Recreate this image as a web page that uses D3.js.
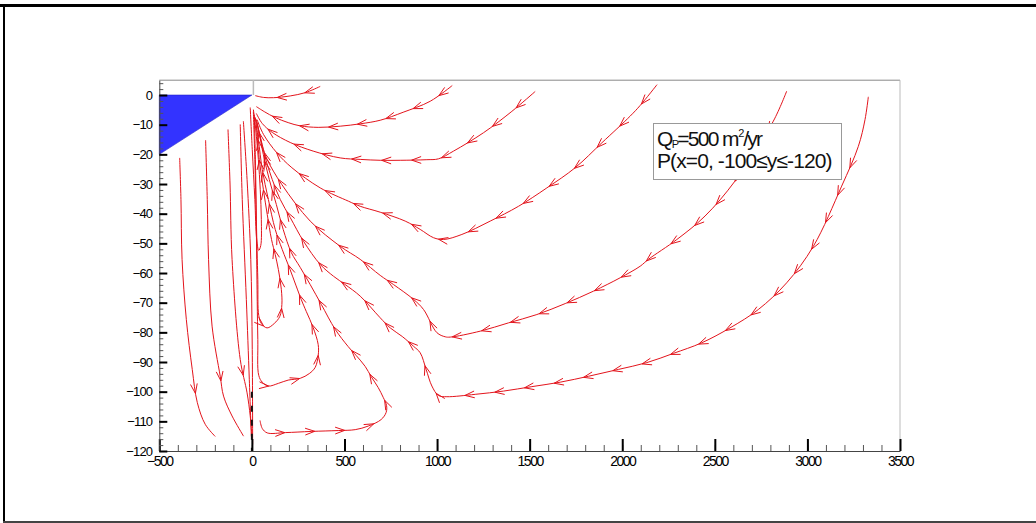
<!DOCTYPE html>
<html><head><meta charset="utf-8">
<script src="https://cdn.jsdelivr.net/npm/d3@7"></script>
<style>body{margin:0;background:#fff;} svg{display:block;font-family:"Liberation Sans",Arial,sans-serif;}</style>
</head><body><svg id="c" width="1036" height="523"></svg>
<script>
// ---- axis ticks ----
const xTicks = [-500,0,500,1000,1500,2000,2500,3000,3500];
const yTicks = [0,-10,-20,-30,-40,-50,-60,-70,-80,-90,-100,-110,-120];
const xMinor = d3.range(-500,3501,100);
const yMinor = d3.range(-120,5,2);
// ---- blue triangle region ----
const triX = [-500,0,-500];
const triY = [0,0,-20];
// ---- well screen ----
const wellX = [0,0];
const wellY = [-100,-120];
// ---- legend ----
const legendQ = ["Q","P","=500 m","2","/yr"];
const legendP = "P(x=0, -100\u2264y\u2264-120)";
// ---- streamlines (x, y in m) ----
const r1X = [369,288,207,116,62,18];
const r1Y = [2.9,0.8,-0.3,-0.9,-0.8,-0.2];
const r2X = [1082,963,817,693,585,477,358,261,196,126,67,24];
const r2Y = [3.2,-2.1,-5.8,-8.5,-9.7,-10.5,-10.9,-10.4,-9.3,-7.6,-5.6,-3.9];
const r3X = [1530,1404,1251,1089,1008,945,801,693,585,477,331,207,110,56,24];
const r3Y = [1.2,-5.5,-12.7,-18.9,-21.5,-21.8,-22,-22,-21.7,-21.2,-18.9,-16,-12.6,-9.6,-6.2];
const r4X = [2188,2097,2043,1890,1746,1593,1440,1287,1134,1035,981,909,828,693,585,522,369,216,135,63,28];
const r4Y = [3.5,-3.5,-7.1,-16.1,-24.5,-31.3,-37.5,-42.5,-47,-48.7,-48.1,-45.3,-42.5,-39.5,-37.5,-35.8,-31.3,-24.5,-19.5,-13.3,-8.3];
const r5X = [2888,2816,2609,2447,2295,2141,2097,1989,1845,1692,1539,1386,1233,1071,1044,999,927,873,765,693,585,477,315,162,82,63,28];
const r5Y = [1.3,-8.8,-29,-40.8,-48.7,-55.4,-57.7,-61.6,-66.1,-70.3,-74,-76.8,-79.6,-81.6,-81.5,-80.1,-72.3,-68.9,-63.9,-60.8,-55.4,-51,-42.5,-30.2,-21.7,-18.4,-9.3];
const r6X = [3329,3311,3275,3185,3032,2888,2735,2582,2430,2276,2133,1979,1818,1665,1512,1359,1206,1053,1008,972,941,909,873,812,747,693,585,504,441,369,279,207,153,110,72,45,24];
const r6Y = [-0.6,-8.3,-17.3,-30.7,-51,-63.3,-72.3,-78.5,-83.5,-87.1,-90.2,-92.5,-94.8,-96.8,-98.3,-99.8,-100.9,-101.7,-101.3,-98.1,-92.5,-86.9,-84.7,-81.4,-78.5,-75.1,-67.8,-63.9,-61.1,-57.1,-49.3,-41.3,-35.2,-28.5,-21.1,-14.3,-8.3];
const loop1X = [8,16,24,32,37,51,82,121,151,162,159,143,126,106,83,62,40,24];
const loop1Y = [-5.6,-21.7,-42,-62.2,-74.3,-77,-78.5,-77,-74.6,-70.6,-65.5,-58.8,-53.8,-48.7,-40.3,-31.8,-21.7,-9.9];
const loop2X = [13,21,26,32,37,56,89,143,196,261,310,342,358,358,331,294,267,206,164,126,89,56,35,18];
const loop2Y = [-6.6,-28.5,-55.4,-82.4,-94.5,-96.8,-98.1,-97.2,-96.1,-95.5,-93.9,-91.8,-87.8,-84.1,-78.4,-73,-69,-58.8,-52.1,-45.3,-35.2,-25.1,-15,-7.6];
const loop3X = [44,56,83,180,321,466,558,628,698,725,727,709,682,644,612,563,520,450,375,315,261,213,169,132,94,62,35,18];
const loop3Y = [-109.7,-112.4,-113.9,-113.8,-113.4,-113.1,-112.8,-111.6,-109.4,-107,-104.6,-101.9,-98.6,-94.9,-91.5,-87.8,-84.8,-79,-70.6,-63.9,-58.1,-53.1,-45.3,-36.9,-28.5,-20.1,-11.6,-7.6];
const hookX = [-9,2,16,26,37,48,51,45,35,18,8];
const hookY = [-4.2,-18.4,-35.2,-48.7,-52.4,-50.7,-42,-31.8,-21.7,-9.9,-4.9];
const aX = [-390,-383,-377,-354,-322,-295,-252,-198];
const aY = [-21.2,-35.2,-55.4,-75.7,-92.5,-103.6,-111,-115.1];
const bX = [-250,-241,-234,-215,-171,-153,-107,-45];
const bY = [-15.2,-35.2,-55.4,-77.9,-94.8,-101.5,-108.2,-115];
const cX = [-129,-118,-107,-63,-26,-9,0];
const cY = [-11.6,-30,-55.4,-89.1,-100.4,-108.2,-115];
const dX = [-63,-52,-30,-14,-3];
const dY = [-9.9,-35.2,-68.9,-95.8,-115.1];
const eX = [-46,-26,-6,2,4];
const eY = [-8.8,-28.5,-55.4,-85.8,-117.8];

const streams = [
  {x:r1X,y:r1Y,arrows:{start:0.25,gap:28}},
  {x:r2X,y:r2Y,arrows:{start:0.08,gap:29}},
  {x:r3X,y:r3Y,arrows:{start:0.08,gap:30}},
  {x:r4X,y:r4Y,arrows:{start:0.05,gap:31}},
  {x:r5X,y:r5Y,arrows:{start:0.06,gap:30}},
  {x:r6X,y:r6Y,arrows:{start:0.08,gap:30}},
  {x:loop1X,y:loop1Y,arrows:{start:0.5,gap:30}},
  {x:loop2X,y:loop2Y,arrows:{start:0.47,gap:32}},
  {x:loop3X,y:loop3Y,arrows:{start:0.07,gap:30}},
  {x:hookX,y:hookY,arrows:null},
  {x:aX,y:aY,arrows:{at:[0.83]}},
  {x:bX,y:bY,arrows:{at:[0.8]}},
  {x:cX,y:cY,arrows:{at:[0.8]}},
  {x:dX,y:dY,arrows:null},
  {x:eX,y:eY,arrows:null}
];

const svg = d3.select("#c");
const X = d3.scaleLinear().domain([-500,3500]).range([159.3,900]);
const Y = d3.scaleLinear().domain([-120,5]).range([451,80.2]);

// outer frame
svg.append("rect").attr("x",0).attr("y",4).attr("width",1036).attr("height",3).attr("fill","#000");
svg.append("rect").attr("x",3).attr("y",4).attr("width",2).attr("height",519).attr("fill","#000");
svg.append("rect").attr("x",3).attr("y",521).attr("width",1033).attr("height",2).attr("fill","#444");

// plot frame top/right
svg.append("line").attr("x1",X(-500)).attr("x2",X(3500)).attr("y1",Y(5)).attr("y2",Y(5)).attr("stroke","#888").attr("stroke-width",1);
svg.append("line").attr("x1",X(3500)).attr("x2",X(3500)).attr("y1",Y(5)).attr("y2",Y(-120)).attr("stroke","#bbb").attr("stroke-width",1);
// gray line at x=0 above surface
svg.append("line").attr("x1",X(0)+1.5).attr("x2",X(0)+1.5).attr("y1",Y(5)).attr("y2",Y(0)).attr("stroke","#bbb").attr("stroke-width",1.5);

// blue triangle
svg.append("path")
  .attr("d", d3.line()(triX.map((v,i)=>[X(v),Y(triY[i])])) + "Z")
  .attr("fill","#3333ff").attr("stroke","#2424c8").attr("stroke-width",0.6);

// streamlines
const gLines = svg.append("g").attr("fill","none").attr("stroke","#e3141c").attr("stroke-width",1);
const lineGen = d3.line().curve(d3.curveCatmullRom.alpha(0.5));
streams.forEach(s=>{
  const pts = s.x.map((v,i)=>[X(v),Y(s.y[i])]);
  const p = gLines.append("path").attr("d",lineGen(pts));
  if(!s.arrows) return;
  const node = p.node();
  const L = node.getTotalLength();
  let ds = [];
  if(s.arrows.at){ ds = s.arrows.at.map(f=>f*L); }
  else { for(let d=s.arrows.start*L; d<L-14; d+=s.arrows.gap) ds.push(d); }
  ds.forEach(d=>{
    const a = node.getPointAtLength(Math.max(0,d-1.5)), b = node.getPointAtLength(Math.min(L,d+1.5));
    let dx=b.x-a.x, dy=b.y-a.y; const n=Math.hypot(dx,dy)||1; dx/=n; dy/=n;
    const tip = node.getPointAtLength(d);
    const al=9.5, aw=3.4;
    const bx=tip.x-dx*al, by=tip.y-dy*al;
    gLines.append("path")
      .attr("d",`M${bx-dy*aw},${by+dx*aw}L${tip.x},${tip.y}L${bx+dy*aw},${by-dx*aw}`)
      .attr("stroke-width",1);
  });
});

// well screen (dashed)
svg.append("line").attr("x1",X(wellX[0])).attr("x2",X(wellX[1])).attr("y1",Y(wellY[0])).attr("y2",Y(wellY[1]))
  .attr("stroke","#111").attr("stroke-width",2).attr("stroke-dasharray","6,8");

// axes
const axB = svg.append("g").attr("transform",`translate(0,${Y(-120)})`)
  .call(d3.axisBottom(X).tickValues(xMinor).tickSize(-6).tickSizeOuter(0).tickFormat(""));
axB.selectAll("line").attr("stroke","#555");
axB.select(".domain").attr("stroke","#444");
const axB2 = svg.append("g").attr("transform",`translate(0,${Y(-120)})`)
  .call(d3.axisBottom(X).tickValues(xTicks).tickSize(-12).tickSizeOuter(0).tickPadding(5).tickFormat(d3.format("d")));
axB2.select(".domain").remove();
axB2.selectAll("line").attr("stroke","#000").attr("stroke-width",2);
axB2.selectAll("text").attr("font-size",14).attr("letter-spacing","-1.5px").attr("fill","#000")
  .attr("font-family","'Liberation Sans',Arial,sans-serif");

const axL = svg.append("g").attr("transform",`translate(${X(-500)},0)`)
  .call(d3.axisLeft(Y).tickValues(yMinor).tickSize(-4).tickSizeOuter(0).tickFormat(""));
axL.selectAll("line").attr("stroke","#555");
axL.select(".domain").attr("stroke","#444");
const axL2 = svg.append("g").attr("transform",`translate(${X(-500)},0)`)
  .call(d3.axisLeft(Y).tickValues(yTicks).tickSize(-8).tickSizeOuter(0).tickPadding(7).tickFormat(d3.format("d")));
axL2.select(".domain").remove();
axL2.selectAll("line").attr("stroke","#000").attr("stroke-width",2);
axL2.selectAll("text").attr("font-size",13).attr("letter-spacing","-0.8px").attr("fill","#000")
  .attr("font-family","'Liberation Sans',Arial,sans-serif");

// legend
const lg = svg.append("g");
lg.append("rect").attr("x",653.5).attr("y",123.5).attr("width",188).attr("height",56)
  .attr("fill","#fff").attr("stroke","#999").attr("stroke-width",1);
const t1 = lg.append("text").attr("x",657).attr("y",146).attr("font-size",21).attr("letter-spacing","-1.7px").attr("fill","#111");
t1.append("tspan").text(legendQ[0]);
t1.append("tspan").attr("font-size",11).attr("dx",0).attr("dy",2).text(legendQ[1]);
t1.append("tspan").attr("dx",0).attr("dy",-2).text(legendQ[2]);
t1.append("tspan").attr("font-size",11).attr("dx",0.5).attr("dy",-9).text(legendQ[3]);
t1.append("tspan").attr("dx",0.5).attr("dy",9).text(legendQ[4]);
lg.append("text").attr("x",657).attr("y",168).attr("font-size",21).attr("letter-spacing","-0.9px").attr("fill","#111").text(legendP);
</script></body></html>
